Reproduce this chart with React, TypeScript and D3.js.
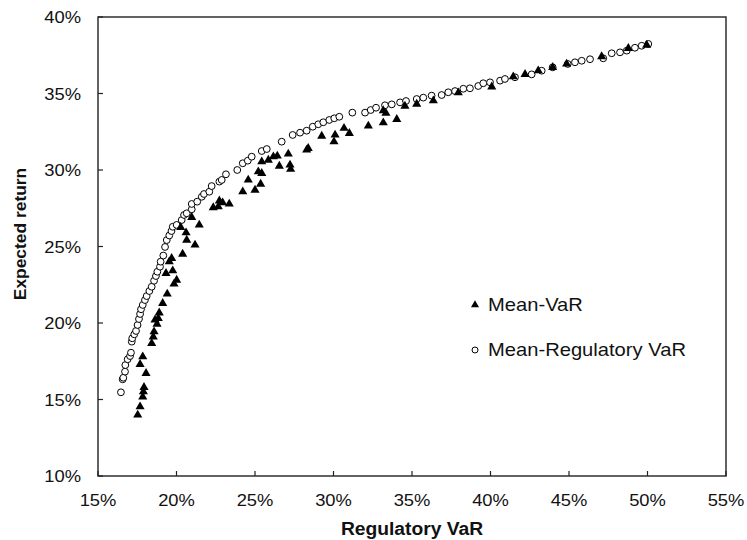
import React from "react";
import * as d3 from "d3";

// Mean-Regulatory VaR frontier: [Regulatory VaR %, Expected return %]
const regVaRX: number[] = [
  16.46, 16.57, 16.61, 16.72, 16.74, 16.89, 17.04, 17.1, 17.15, 17.18, 17.31, 17.42, 17.52, 17.61, 17.68,
  17.74, 17.85, 17.99, 18.1, 18.27, 18.42, 18.57, 18.69, 18.78, 18.95, 18.99, 19.16, 19.27, 19.38, 19.54,
  19.68, 19.76, 20.01, 20.33, 20.48, 20.65, 20.97, 20.97, 21.32, 21.61, 21.75, 22.09, 22.24, 22.73, 22.88,
  23.15, 23.87, 24.22, 24.54, 24.79, 25.43, 25.75, 26.7, 27.4, 27.87, 28.29, 28.68, 29.03, 29.35, 29.73,
  30.05, 30.37, 31.2, 32.01, 32.37, 32.71, 33.28, 33.71, 34.24, 34.62, 35.3, 35.72, 36.25, 36.89, 37.31,
  37.74, 38.27, 38.69, 39.22, 39.54, 39.97, 40.61, 40.92, 41.56, 42.62, 43.26, 43.96, 44.92, 45.38, 45.81,
  46.34, 47.18, 47.72, 48.25, 48.68, 49.2, 49.63, 50.05,
];
const regVaRY: number[] = [
  15.47, 16.32, 16.42, 16.82, 17.25, 17.63, 17.84, 18.06, 18.78, 19.0, 19.26, 19.48, 19.87, 20.26, 20.59,
  20.9, 21.18, 21.5, 21.76, 22.09, 22.37, 22.76, 23.07, 23.35, 23.68, 24.01, 24.41, 24.97, 25.42, 25.72,
  26.01, 26.29, 26.41, 26.73, 27.06, 27.17, 27.43, 27.78, 27.93, 28.25, 28.43, 28.58, 28.95, 29.24, 29.35,
  29.72, 30.0, 30.44, 30.61, 30.87, 31.24, 31.37, 31.85, 32.29, 32.44, 32.57, 32.83, 32.99, 33.12, 33.27,
  33.38, 33.48, 33.75, 33.75, 33.92, 34.07, 34.23, 34.29, 34.42, 34.51, 34.64, 34.73, 34.86, 34.9, 35.08,
  35.16, 35.31, 35.34, 35.49, 35.67, 35.73, 35.84, 35.95, 36.06, 36.25, 36.49, 36.71, 36.93, 37.04, 37.14,
  37.24, 37.3, 37.63, 37.69, 37.8, 37.99, 38.12, 38.24,
];

// Mean-VaR portfolios: [Regulatory VaR %, Expected return %]
const meanVaRX: number[] = [
  17.53, 17.68, 17.85, 17.89, 17.93, 18.06, 17.68, 17.85, 18.42, 18.52, 18.57, 18.76, 18.63, 18.84, 18.9,
  19.12, 19.41, 19.84, 20.01, 19.33, 19.76, 19.54, 19.69, 20.39, 21.18, 20.65, 20.61, 20.27, 20.97, 21.45,
  22.34, 22.66, 22.73, 22.94, 23.36, 24.22, 25.0, 24.57, 25.36, 25.21, 25.43, 25.43, 25.85, 26.17, 26.42,
  26.55, 27.12, 27.23, 27.27, 28.29, 28.39, 29.25, 30.1, 30.03, 30.67, 31.01, 32.22, 33.17, 33.34, 33.17,
  34.03, 34.55, 35.3, 36.36, 37.95, 40.08, 41.45, 42.2, 43.04, 43.96, 44.85, 47.08, 48.78, 49.95,
];
const meanVaRY: number[] = [
  13.99, 14.53, 15.18, 15.51, 15.8, 16.71, 17.3, 17.8, 18.67, 19.1, 19.43, 19.93, 20.2, 20.31, 20.67,
  21.29, 21.9, 22.55, 22.81, 23.25, 23.42, 24.01, 24.23, 24.51, 25.1, 25.42, 25.9, 26.25, 26.91, 26.41,
  27.54, 27.6, 27.99, 27.86, 27.78, 28.58, 28.69, 29.35, 29.08, 29.89, 29.78, 30.54, 30.65, 30.87, 30.92,
  30.26, 31.05, 30.33, 30.05, 31.31, 31.42, 32.22, 32.29, 31.85, 32.73, 32.4, 32.88, 33.88, 33.71, 33.09,
  33.31, 34.18, 34.31, 34.53, 35.05, 35.44, 36.1, 36.25, 36.49, 36.71, 36.93, 37.41, 37.95, 38.17,
];

const xTicks: number[] = [15, 20, 25, 30, 35, 40, 45, 50, 55];
const yTicks: number[] = [10, 15, 20, 25, 30, 35, 40];
const seriesNames: string[] = ["Mean-VaR", "Mean-Regulatory VaR"];
const xTitle = "Regulatory VaR";
const yTitle = "Expected return";

const W = 747;
const H = 540;
const FONT = "Arial, 'Liberation Sans', Helvetica, sans-serif";

export default function App() {
  const x = d3.scaleLinear().domain([15, 55]).range([98, 726]);
  const y = d3.scaleLinear().domain([10, 40]).range([476, 17]);
  const tri = d3.symbol().type(d3.symbolTriangle).size(36)() as string;
  const left = x(15);
  const right = x(55);
  const top = y(40);
  const bottom = y(10);

  return (
    <svg
      width={W}
      height={H}
      style={{ position: "absolute", left: 0, top: 0, background: "#fff" }}
      fontFamily={FONT}
    >
      <rect x={0} y={0} width={W} height={H} fill="#fff" />
      {/* plot frame */}
      <rect
        x={left}
        y={top}
        width={right - left}
        height={bottom - top}
        fill="none"
        stroke="#222"
        strokeWidth={1.4}
      />
      {/* y ticks */}
      {yTicks.map((t) => (
        <g key={"yt" + t}>
          <line x1={left} x2={left + 5} y1={y(t)} y2={y(t)} stroke="#222" strokeWidth={1.2} />
          <text
            transform={`translate(${left - 17},${y(t) + 6}) scale(1.08,1)`}
            textAnchor="end"
            fontSize={17}
            fill="#111"
          >
            {t}%
          </text>
        </g>
      ))}
      {/* x ticks */}
      {xTicks.map((t) => (
        <g key={"xt" + t}>
          <line x1={x(t)} x2={x(t)} y1={bottom} y2={bottom - 5} stroke="#222" strokeWidth={1.2} />
          <text
            transform={`translate(${x(t)},${bottom + 29.5}) scale(1.08,1)`}
            textAnchor="middle"
            fontSize={17}
            fill="#111"
          >
            {t}%
          </text>
        </g>
      ))}
      {/* axis titles */}
      <text
        transform={`translate(${(left + right) / 2},535) scale(1.07,1)`}
        textAnchor="middle"
        fontSize={18}
        fontWeight="bold"
        fill="#111"
      >
        {xTitle}
      </text>
      <text
        transform={`translate(26,234) rotate(-90)`}
        textAnchor="middle"
        fontSize={17.4}
        fontWeight="bold"
        fill="#111"
      >
        {yTitle}
      </text>
      {/* Mean-Regulatory VaR circles */}
      {regVaRX.map((v, i) => (
        <circle
          key={"c" + i}
          cx={x(v)}
          cy={y(regVaRY[i])}
          r={3.4}
          fill="#fff"
          stroke="#000"
          strokeWidth={1}
        />
      ))}
      {/* Mean-VaR triangles */}
      {meanVaRX.map((v, i) => (
        <path key={"t" + i} d={tri} transform={`translate(${x(v)},${y(meanVaRY[i])})`} fill="#000" />
      ))}
      {/* legend */}
      <path d={d3.symbol().type(d3.symbolTriangle).size(28)() as string} transform="translate(475,305)" fill="#000" />
      <text transform="translate(488,311) scale(1.12,1)" fontSize={18} fill="#111">
        {seriesNames[0]}
      </text>
      <circle cx={475} cy={350} r={3} fill="#fff" stroke="#000" strokeWidth={1} />
      <text transform="translate(488,356) scale(1.12,1)" fontSize={18} fill="#111">
        {seriesNames[1]}
      </text>
    </svg>
  );
}
